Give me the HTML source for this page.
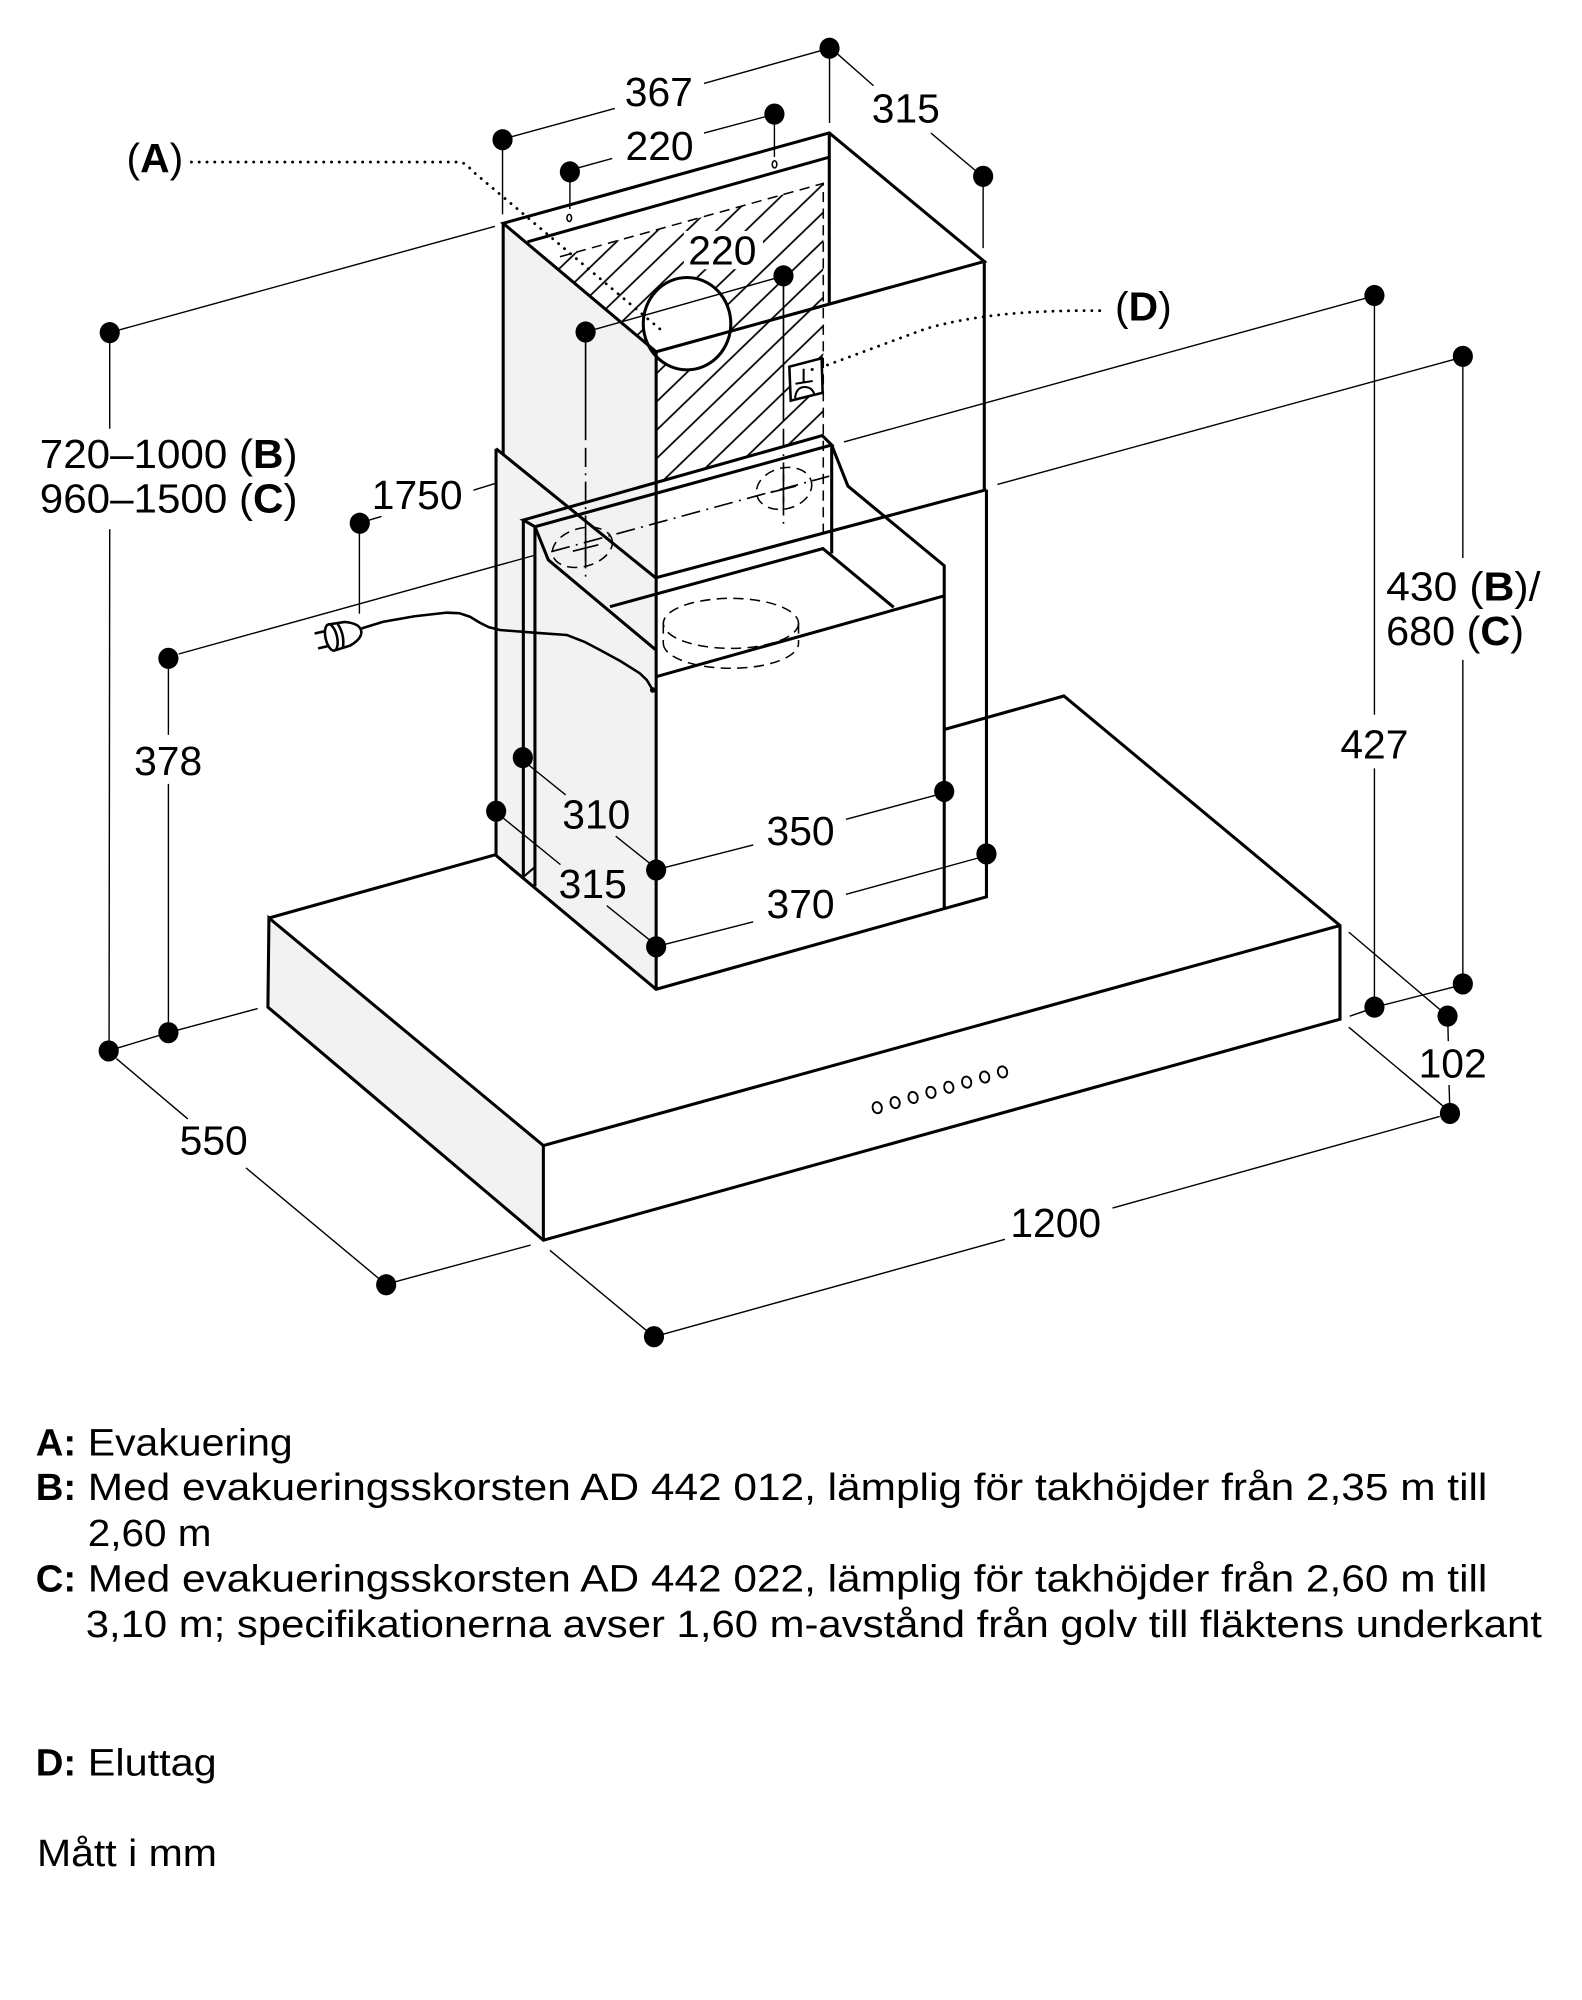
<!DOCTYPE html>
<html>
<head>
<meta charset="utf-8">
<style>
html,body{margin:0;padding:0;background:#fff;}
svg{display:block;}
.k{stroke:#000;stroke-width:2.4;fill:none;stroke-linejoin:miter;}
.t{stroke:#000;stroke-width:1.1;fill:none;}
.d{stroke:#000;stroke-width:1.2;fill:none;stroke-dasharray:8 5;}
.dd{stroke:#000;stroke-width:1.3;fill:none;stroke-dasharray:15 5 1.5 5;}
.dt{stroke:#000;stroke-width:2.2;fill:none;stroke-dasharray:0.1 6;stroke-linecap:round;}
text{font-family:"Liberation Sans",Arial,sans-serif;fill:#000;}
.n{font-size:32px;}
.m{text-anchor:middle;}
.lg{font-size:30px;}
.b{font-weight:bold;}
</style>
</head>
<body>
<svg xmlns="http://www.w3.org/2000/svg" width="1582" height="2000" viewBox="0 0 1240 1567.6">
<defs>
<pattern id="h" patternUnits="userSpaceOnUse" width="16" height="16" patternTransform="rotate(-44)">
<line x1="0" y1="8" x2="16" y2="8" stroke="#000" stroke-width="1.4"/>
</pattern>
</defs>
<rect x="0" y="0" width="1240" height="1567.6" fill="#fff"/>

<!-- gray faces -->
<polygon fill="#f2f2f2" points="394.4,175 514.3,275.7 514.3,775.4 388.8,670.5 388.8,351.7 394.4,356.2"/>
<polygon fill="#f2f2f2" points="210.8,719.5 425.9,897.9 425.9,972.1 210,789.4"/>

<!-- hatch -->
<polygon fill="url(#h)" points="428.9,204 645.3,143.7 645.3,341.5 514.7,377.5 514.3,275.7"/>
<rect x="536" y="181" width="62" height="30" fill="#fff"/>

<!-- duct circle -->
<ellipse cx="538.5" cy="253.7" rx="34.3" ry="36.2" fill="#fff" stroke="#000" stroke-width="2.4"/>

<!-- socket box -->
<polygon points="618.7,287.4 644,280.8 644.8,307.8 619.8,314" fill="#fff" stroke="#000" stroke-width="2"/>
<path d="M629.9,289 L629.9,299.5 M623.5,300.8 L637,298.6 M623.2,312 Q624,303.5 630.5,303.3 Q637,303.2 638.5,310" stroke="#000" stroke-width="1.6" fill="none"/>
<circle cx="636.6" cy="289.6" r="1.2" fill="#000"/>

<!-- upper chimney -->
<path class="k" d="M394.4,175 L650,104.2 L771.5,204.9 L514.3,275.7 Z"/>
<path class="k" d="M413.5,189.5 L650,123.2"/>
<path class="k" d="M650,104.2 L650,238.3"/>
<path class="k" d="M394.4,175 L394.4,356.2"/>
<path class="k" d="M514.3,275.7 L514.3,775.4"/>
<path class="k" d="M771.5,204.9 L771.5,383.8"/>

<!-- outer lower cover -->
<path class="k" d="M388.8,351.7 L514.3,453.2"/>
<path class="k" d="M514.3,452.8 L773.2,383.8"/>
<path class="k" d="M388.8,351.7 L388.8,670.5 L514.3,775.4 L773.2,702.9 L773.2,383.8"/>

<!-- mid part -->
<path class="k" d="M410.2,407.6 L644.5,341.4 L651.9,348.8 L419.3,412.8 Z"/>
<path class="k" d="M651.9,348.8 L664.6,381 L740.1,443.4 L740.1,711.8"/>
<path class="k" d="M419.3,412.8 L429.8,438.9 L514.3,509.6"/>
<path class="k" d="M410.2,407.6 L410.2,687.4"/>
<path class="k" d="M419.3,412.8 L419.3,694.5"/>
<path class="k" d="M651.9,348.8 L651.9,433.7"/>
<path class="k" d="M478.1,475.5 L645,430 L700.5,476"/>
<path class="k" d="M514.3,530.4 L740.1,467"/>
<path class="t" d="M410.2,687.4 L419.3,679.5" style="stroke-width:1.6"/>

<!-- base -->
<path class="k" d="M210.8,719.5 L388.8,669.8"/>
<path class="k" d="M740.1,571.8 L833.9,545.5 L1050.3,725.4 L1050.3,798.9 L425.9,972.1 L210,789.4 L210.8,719.5 L425.9,897.9 L1050.3,725.4"/>
<path class="k" d="M425.9,897.9 L425.9,972.1"/>

<!-- buttons -->
<g fill="none" stroke="#000" stroke-width="1.5">
<ellipse cx="687.6" cy="868.2" rx="3.6" ry="4.4" transform="rotate(-15 687.6 868.2)"/>
<ellipse cx="701.6" cy="864.2" rx="3.6" ry="4.4" transform="rotate(-15 701.6 864.2)"/>
<ellipse cx="715.7" cy="860.2" rx="3.6" ry="4.4" transform="rotate(-15 715.7 860.2)"/>
<ellipse cx="729.7" cy="856.2" rx="3.6" ry="4.4" transform="rotate(-15 729.7 856.2)"/>
<ellipse cx="743.7" cy="852.2" rx="3.6" ry="4.4" transform="rotate(-15 743.7 852.2)"/>
<ellipse cx="757.7" cy="848.2" rx="3.6" ry="4.4" transform="rotate(-15 757.7 848.2)"/>
<ellipse cx="771.8" cy="844.2" rx="3.6" ry="4.4" transform="rotate(-15 771.8 844.2)"/>
<ellipse cx="785.8" cy="840.2" rx="3.6" ry="4.4" transform="rotate(-15 785.8 840.2)"/>
</g>

<!-- dashed hidden lines -->
<path class="d" d="M438.9,201.2 L645.3,143.7 L645.3,423"/>
<ellipse class="d" cx="572.9" cy="488.6" rx="53" ry="19.6"/>
<path class="d" d="M519.9,504.2 A53,19.6 0 0 0 625.9,504.2 M519.9,488.6 L519.9,504.2 M625.9,488.6 L625.9,504.2"/>
<ellipse class="d" cx="456.5" cy="429" rx="24" ry="15" transform="rotate(-15 456.5 429)"/>
<ellipse class="d" cx="614.6" cy="382.8" rx="22" ry="16" transform="rotate(-15 614.6 382.8)"/>
<path class="t" d="M459,418 L459,440 M449,432 L469,427 M614.1,372 L614.1,394 M604,386 L624,381" style="stroke-width:1.3"/>

<!-- dash-dot axes -->
<path class="dd" d="M432,432.4 L650,373.2"/>
<path class="t" d="M459,268.5 L459,345" style="stroke-width:1.3"/>
<path class="dd" d="M459,351 L459,455"/>
<path class="t" d="M614.1,224 L614.1,330" style="stroke-width:1.3"/>
<path class="dd" d="M614.1,336 L614.1,414"/>

<!-- dotted leaders -->
<path class="dt" d="M150,127 L360,127 Q366,128 369,133 L521.3,261.3"/>
<path class="dt" d="M862,243.5 C800,243 760,248 726,257.5 L646,287"/>

<!-- cord and plug -->
<polyline points="283.5,492.5 300.5,487.3 325,483 350.1,480.2 360,480.6 368.4,483.4 376,488 383,491.5 391.9,493.8 420,496 444.2,497.7 458,503 470.3,509.5 486,518 501.6,527.8 507,533 511.6,540.8" fill="none" stroke="#000" stroke-width="2" stroke-linejoin="round"/>
<circle cx="511.6" cy="540.8" r="2.2" fill="#000"/>
<g transform="translate(270.4,497.2) rotate(-13)" fill="none" stroke="#000" stroke-width="2">
<path d="M-11,-10.5 L2,-9.5 Q13,-6 13,0 Q13,6 2,9.5 L-11,10.5" fill="#fff"/>
<ellipse cx="-11" cy="0" rx="4.5" ry="10.5" fill="#fff"/>
<path d="M-4,-10 Q0,0 -4,10"/>
<path d="M-15,-6 L-23,-6 M-15,6 L-23,6"/>
</g>

<!-- dimension lines -->
<g class="t">
<path d="M400,107.4 L481.9,85 M551.8,65.4 L644,39.5"/>
<path d="M393.9,117 L393.9,168 M650.2,46 L650.2,96.4"/>
<path d="M655.3,41.3 L684.7,67.2 M729.7,104.3 L765,134"/>
<path d="M770.6,146 L770.6,194.5"/>
<path d="M451.9,131.9 L479.9,124.2 M551.8,104.3 L600,91.4"/>
<path d="M446.7,142 L446.7,163.8 M607,97 L607,123"/>
<path d="M465,258.5 L608,218"/>
<path d="M86,268 L86,336 M86,414.7 L85.5,816"/>
<path d="M92,259 L388,177.4"/>
<path d="M92,821.5 L125,811.5 M139,807.5 L202,790.5"/>
<path d="M132,524 L132,576 M132,614.4 L132,801"/>
<path d="M140,512.6 L419.9,435"/>
<path d="M91.2,829.7 L147.2,877 M192.8,915.4 L297.9,1002.9"/>
<path d="M310,1004.6 L415.9,975.9"/>
<path d="M519.5,1045.8 L787.7,971.4 M872,946.9 L1128.5,875.1"/>
<path d="M431,980 L507,1043.1"/>
<path d="M1134.9,804 L1135.2,816 M1135.8,850.4 L1136.3,866.4"/>
<path d="M1057.2,730.6 L1128.5,791.2 M1057.2,805.1 L1132.6,868.2"/>
<path d="M1077.3,239 L1077.3,560.2 M1077.3,602.2 L1077.3,782"/>
<path d="M1070.5,233.7 L661.5,346.4"/>
<path d="M1146.6,287 L1146.6,437.4 M1146.6,517.2 L1146.6,763"/>
<path d="M1139.8,281.7 L781.8,379.7"/>
<path d="M1140,773.5 L1084.5,787.7 M1070.4,792.2 L1058,796.5"/>
<path d="M289.5,407.6 L299,404.8 M371.1,384.2 L387.9,379"/>
<path d="M281.7,418 L281.7,481"/>
<path d="M414,599.3 L443.4,623.1 M482.6,655.4 L510.6,677.7"/>
<path d="M393,640 L439.3,677.7 M475.6,709.9 L510.6,737.9"/>
<path d="M519,680.5 L590.4,662.3 M663.1,642.2 L736,622.6"/>
<path d="M519,740.7 L590.4,722.5 M663.1,701 L768.1,672.1"/>
</g>
<g fill="none" stroke="#000" stroke-width="1.2">
<ellipse cx="446.2" cy="170.8" rx="1.8" ry="2.8"/>
<ellipse cx="607.1" cy="128.8" rx="1.8" ry="2.8"/>
</g>

<!-- dots -->
<g fill="#000">
<ellipse cx="393.9" cy="109.5" rx="7.9" ry="8.3"/>
<ellipse cx="650.2" cy="37.8" rx="7.9" ry="8.3"/>
<ellipse cx="770.6" cy="138.2" rx="7.9" ry="8.3"/>
<ellipse cx="446.7" cy="134.7" rx="7.9" ry="8.3"/>
<ellipse cx="607" cy="89.4" rx="7.9" ry="8.3"/>
<ellipse cx="459" cy="260.2" rx="7.9" ry="8.3"/>
<ellipse cx="614.1" cy="216.2" rx="7.9" ry="8.3"/>
<ellipse cx="86" cy="260.7" rx="7.9" ry="8.3"/>
<ellipse cx="85.2" cy="823.7" rx="7.9" ry="8.3"/>
<ellipse cx="132" cy="516" rx="7.9" ry="8.3"/>
<ellipse cx="132" cy="809.4" rx="7.9" ry="8.3"/>
<ellipse cx="282" cy="410.1" rx="7.9" ry="8.3"/>
<ellipse cx="302.7" cy="1007" rx="7.9" ry="8.3"/>
<ellipse cx="512.6" cy="1047.7" rx="7.9" ry="8.3"/>
<ellipse cx="1136.5" cy="872.7" rx="7.9" ry="8.3"/>
<ellipse cx="1134.6" cy="796.4" rx="7.9" ry="8.3"/>
<ellipse cx="1077.3" cy="789.4" rx="7.9" ry="8.3"/>
<ellipse cx="1146.6" cy="771.2" rx="7.9" ry="8.3"/>
<ellipse cx="1077.3" cy="231.6" rx="7.9" ry="8.3"/>
<ellipse cx="1146.6" cy="279.3" rx="7.9" ry="8.3"/>
<ellipse cx="409.8" cy="593.8" rx="7.9" ry="8.3"/>
<ellipse cx="388.9" cy="635.8" rx="7.9" ry="8.3"/>
<ellipse cx="514.3" cy="681.9" rx="7.9" ry="8.3"/>
<ellipse cx="740.1" cy="620.3" rx="7.9" ry="8.3"/>
<ellipse cx="514.3" cy="742.1" rx="7.9" ry="8.3"/>
<ellipse cx="773.2" cy="669.3" rx="7.9" ry="8.3"/>
</g>

<!-- dimension labels -->
<text class="n m" x="516.4" y="83">367</text>
<text class="n m" x="517" y="125.3">220</text>
<text class="n m" x="710" y="96.2">315</text>
<text class="n m" x="566.2" y="207.2">220</text>
<text class="n" x="99.2" y="134.7">(<tspan class="b">A</tspan>)</text>
<text class="n" x="874" y="251.2">(<tspan class="b">D</tspan>)</text>
<text class="n" x="31.2" y="366.7" textLength="202" lengthAdjust="spacingAndGlyphs">720–1000 (<tspan class="b">B</tspan>)</text>
<text class="n" x="31.2" y="401.7" textLength="202" lengthAdjust="spacingAndGlyphs">960–1500 (<tspan class="b">C</tspan>)</text>
<text class="n m" x="327" y="398.9">1750</text>
<text class="n m" x="131.8" y="607.5">378</text>
<text class="n m" x="467.4" y="649.5">310</text>
<text class="n m" x="464.6" y="703.7">315</text>
<text class="n m" x="627.5" y="662.3">350</text>
<text class="n m" x="627.5" y="719.7">370</text>
<text class="n m" x="167.5" y="905">550</text>
<text class="n m" x="827.5" y="969.6">1200</text>
<text class="n m" x="1138.6" y="844.7">102</text>
<text class="n m" x="1077.3" y="594.5">427</text>
<text class="n" x="1086.5" y="470.6" textLength="121" lengthAdjust="spacingAndGlyphs">430 (<tspan class="b">B</tspan>)/</text>
<text class="n" x="1086.5" y="505.6" textLength="108" lengthAdjust="spacingAndGlyphs">680 (<tspan class="b">C</tspan>)</text>

<!-- legend -->
<text class="lg b" x="28" y="1141">A:</text>
<text class="lg" x="68.8" y="1141" textLength="160.6" lengthAdjust="spacingAndGlyphs">Evakuering</text>
<text class="lg b" x="28" y="1175.8">B:</text>
<text class="lg" x="68.8" y="1175.8" textLength="1097" lengthAdjust="spacingAndGlyphs">Med evakueringsskorsten AD 442 012, lämplig för takhöjder från 2,35 m till</text>
<text class="lg" x="68.8" y="1211.6" textLength="97" lengthAdjust="spacingAndGlyphs">2,60 m</text>
<text class="lg b" x="28" y="1247.5">C:</text>
<text class="lg" x="68.8" y="1247.5" textLength="1097" lengthAdjust="spacingAndGlyphs">Med evakueringsskorsten AD 442 022, lämplig för takhöjder från 2,60 m till</text>
<text class="lg" x="67.2" y="1283" textLength="1141.4" lengthAdjust="spacingAndGlyphs">3,10 m; specifikationerna avser 1,60 m-avstånd från golv till fläktens underkant</text>
<text class="lg b" x="28" y="1391.6">D:</text>
<text class="lg" x="68.8" y="1391.6" textLength="101" lengthAdjust="spacingAndGlyphs">Eluttag</text>
<text class="lg" x="29" y="1462.5" textLength="141" lengthAdjust="spacingAndGlyphs">Mått i mm</text>
</svg>
</body>
</html>
